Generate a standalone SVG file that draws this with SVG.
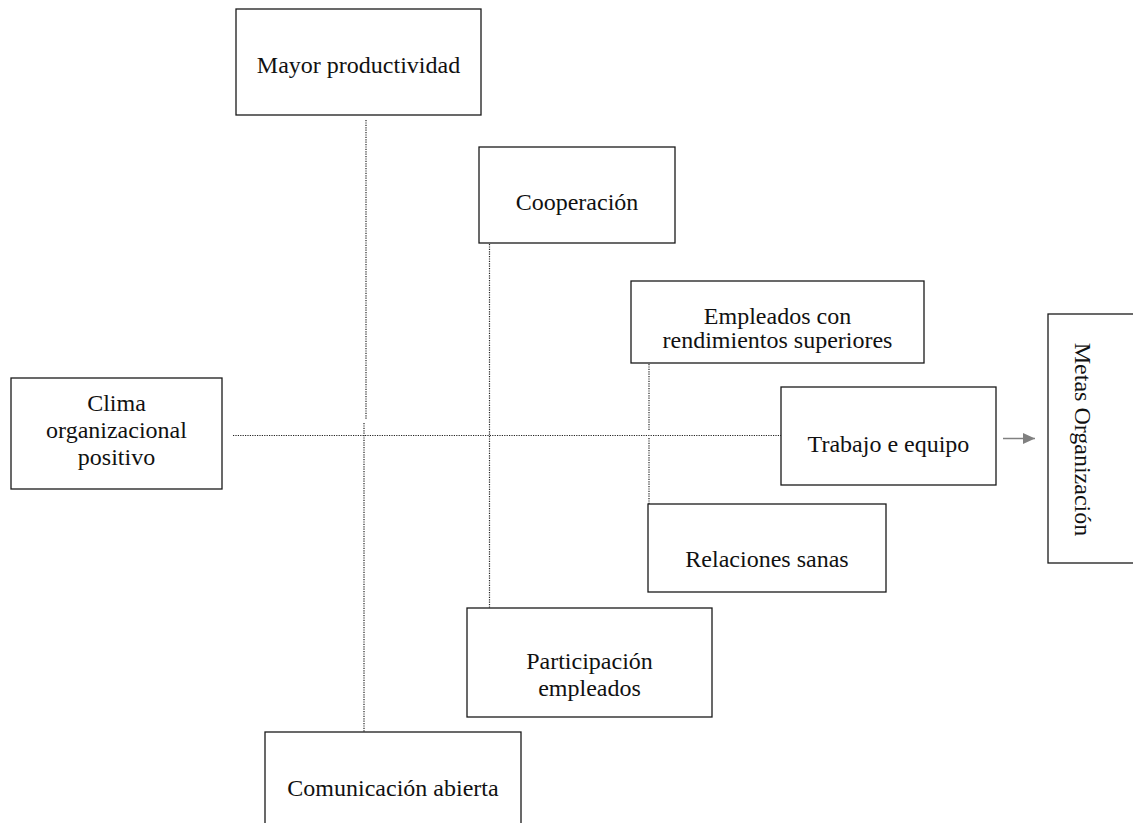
<svg xmlns="http://www.w3.org/2000/svg" width="1133" height="823" viewBox="0 0 1133 823">
<style>
.box{fill:#fff;stroke:#1a1a1a;stroke-width:1.3}
.t{font-family:"Liberation Serif","Times New Roman",serif;font-size:24px;fill:#111;text-anchor:middle}
.dot{stroke:#222;stroke-width:1.2;stroke-dasharray:1.2 1.2;fill:none}
</style>
<defs>
<marker id="ah" markerWidth="12" markerHeight="12" refX="12" refY="6" orient="auto" markerUnits="userSpaceOnUse">
<path d="M0,0.5 L12,6 L0,11.5 Z" fill="#808080"/>
</marker>
</defs>
<rect width="1133" height="823" fill="#fff"/>
<g id="connectors">
<line class="dot" x1="366" y1="120" x2="366" y2="420"/>
<line class="dot" x1="364" y1="423" x2="364" y2="737"/>
<line class="dot" x1="489.5" y1="244" x2="489.5" y2="612"/>
<line class="dot" x1="649" y1="364" x2="649" y2="430"/>
<line class="dot" x1="649" y1="438" x2="649" y2="504"/>
<line class="dot" x1="233" y1="435.5" x2="781" y2="435.5"/>
<line x1="1003" y1="438.5" x2="1035" y2="438.5" stroke="#808080" stroke-width="1.5" marker-end="url(#ah)"/>
</g>
<g id="mayor">
<rect class="box" x="236" y="9" width="245" height="106"/>
<text class="t" x="358.5" y="73">Mayor productividad</text>
</g>
<g id="cooperacion">
<rect class="box" x="479" y="147" width="196" height="96"/>
<text class="t" x="577" y="210">Cooperación</text>
</g>
<g id="empleados">
<rect class="box" x="631" y="281" width="293" height="82"/>
<text class="t" x="777.5" y="324">Empleados con</text>
<text class="t" x="777.5" y="348">rendimientos superiores</text>
</g>
<g id="clima">
<rect class="box" x="11" y="378" width="211" height="111"/>
<text class="t" x="116.5" y="411">Clima</text>
<text class="t" x="116.5" y="438">organizacional</text>
<text class="t" x="116.5" y="465">positivo</text>
</g>
<g id="trabajo">
<rect class="box" x="781" y="387" width="215" height="98"/>
<text class="t" x="888.5" y="452">Trabajo e equipo</text>
</g>
<g id="metas">
<rect class="box" x="1048" y="314" width="100" height="249"/>
<text class="t" transform="translate(1075,439.5) rotate(90)" x="0" y="0">Metas Organización</text>
</g>
<g id="relaciones">
<rect class="box" x="648" y="504" width="238" height="88"/>
<text class="t" x="767" y="567">Relaciones sanas</text>
</g>
<g id="participacion">
<rect class="box" x="467" y="608" width="245" height="109"/>
<text class="t" x="589.5" y="669">Participación</text>
<text class="t" x="589.5" y="696">empleados</text>
</g>
<g id="comunicacion">
<rect class="box" x="265" y="732" width="256" height="100"/>
<text class="t" x="393" y="796">Comunicación abierta</text>
</g>
</svg>
